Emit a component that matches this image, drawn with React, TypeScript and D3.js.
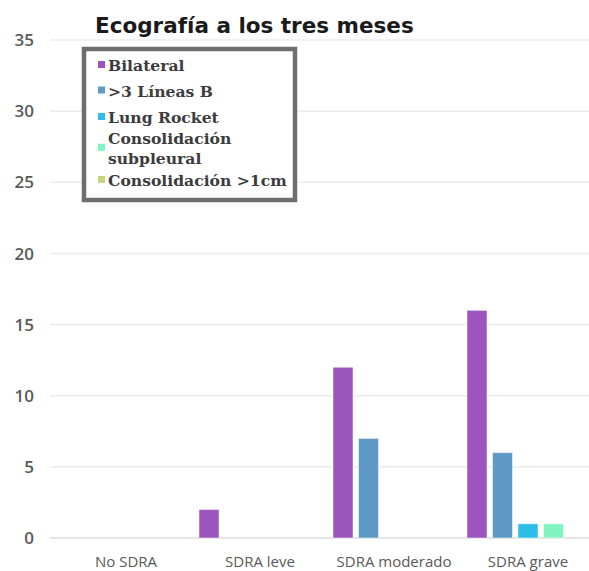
import React from "react";
import * as d3 from "d3";

// Grupos de SDRA en el eje X
const categories: string[] = ["No SDRA", "SDRA leve", "SDRA moderado", "SDRA grave"];

// Series (hallazgos ecográficos)
const seriesNames: string[] = [
  "Bilateral",
  ">3 Líneas B",
  "Lung Rocket",
  "Consolidación subpleural",
  "Consolidación >1cm",
];
const seriesColors: string[] = ["#9b55bd", "#5f9ac6", "#2cbde8", "#80f5c2", "#c6d57a"];

// Valores por serie, en el orden de categories
const bilateral: number[] = [0, 2, 12, 16];
const lineasB: number[] = [0, 0, 7, 6];
const lungRocket: number[] = [0, 0, 0, 1];
const consSubpleural: number[] = [0, 0, 0, 1];
const consMayor1cm: number[] = [0, 0, 0, 0];
const seriesValues: number[][] = [bilateral, lineasB, lungRocket, consSubpleural, consMayor1cm];

const yTicks: number[] = [0, 5, 10, 15, 20, 25, 30, 35];

const W = 589;
const H = 571;

export default function App() {
  const x = d3.scaleBand<string>().domain(categories).range([59, 595]).paddingInner(0).paddingOuter(0);
  const y = d3.scaleLinear().domain([0, 35]).range([538, 40]);
  const inner = d3
    .scaleBand<number>()
    .domain(d3.range(seriesNames.length))
    .range([6, x.bandwidth() - 6])
    .paddingInner(0.215)
    .paddingOuter(0);

  const legendRows = [
    { i: 0, lines: ["Bilateral"], base: 71 },
    { i: 1, lines: [">3 Líneas B"], base: 96.5 },
    { i: 2, lines: ["Lung Rocket"], base: 123 },
    { i: 3, lines: ["Consolidación", "subpleural"], base: 143.5 },
    { i: 4, lines: ["Consolidación >1cm"], base: 186 },
  ];

  return (
    <svg
      width={W}
      height={H}
      style={{ position: "absolute", left: 0, top: 0, background: "#fff" }}
    >
      {/* líneas de cuadrícula */}
      {yTicks.map((t) => (
        <line
          key={"g" + t}
          x1={50}
          x2={W}
          y1={y(t)}
          y2={y(t)}
          stroke={t === 0 ? "#dcdcdc" : "#ececec"}
          strokeWidth={1.5}
        />
      ))}
      {/* etiquetas del eje Y */}
      {yTicks.map((t) => (
        <text
          key={"yl" + t}
          x={34}
          y={y(t)}
          dy="0.36em"
          textAnchor="end"
          fontFamily="'Open Sans', sans-serif"
          fontSize={17}
          fontWeight={600}
          fill="#5a5a5a"
        >
          {t}
        </text>
      ))}
      {/* barras */}
      {categories.map((c, ci) => (
        <g key={c} transform={`translate(${x(c)},0)`}>
          {seriesValues.map((vals, si) =>
            vals[ci] > 0 ? (
              <rect
                key={si}
                x={inner(si)}
                y={y(vals[ci])}
                width={inner.bandwidth()}
                height={y(0) - y(vals[ci])}
                fill={seriesColors[si]}
                stroke="#ffffff"
                strokeOpacity={0.5}
                strokeWidth={1}
              />
            ) : null
          )}
        </g>
      ))}
      {/* etiquetas del eje X */}
      {categories.map((c) => (
        <text
          key={"xl" + c}
          x={(x(c) ?? 0) + x.bandwidth() / 2}
          y={562}
          dy="0.35em"
          textAnchor="middle"
          fontFamily="'Open Sans', sans-serif"
          fontSize={15}
          fill="#595959"
        >
          {c}
        </text>
      ))}
      {/* título */}
      <text
        x={95}
        y={33}
        fontFamily="'DejaVu Sans', sans-serif"
        fontWeight="bold"
        fontSize={21.5}
        fill="#1a1a1a"
      >
        Ecografía a los tres meses
      </text>
      {/* leyenda */}
      <rect x={84} y={49} width={211} height={151} fill="#ffffff" stroke="#6e6e6e" strokeWidth={4.5} />
      {legendRows.map((r) => {
        const n = r.lines.length;
        const midBase = r.base + ((n - 1) * 20.5) / 2;
        return (
          <g key={"lg" + r.i}>
            <rect x={98} y={midBase - 10} width={7} height={7} fill={seriesColors[r.i]} />
            {r.lines.map((ln, li) => (
              <text
                key={li}
                x={108}
                y={r.base + li * 20.5}
                fontFamily="'DejaVu Serif', serif"
                fontWeight="bold"
                fontSize={15.6}
                fill="#3c3c3c"
              >
                {ln}
              </text>
            ))}
          </g>
        );
      })}
    </svg>
  );
}
